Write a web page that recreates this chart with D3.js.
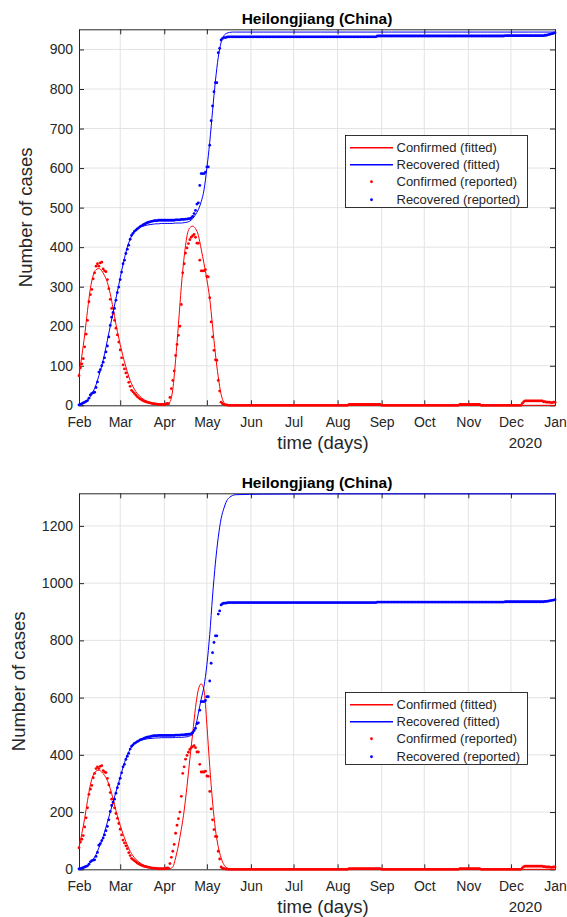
<!DOCTYPE html>
<html lang="en">
<head>
<meta charset="utf-8">
<script src="https://d3js.org/d3.v7.min.js"></script>
<style>
  body { margin: 0; background: #fff; }
  svg text { font-family: "Liberation Sans", Arial, Helvetica, sans-serif; }
</style>
</head>
<body>
<script>
// labels
const titleText = "Heilongjiang (China)";
const xLabel = "time (days)";
const yLabel = "Number of cases";
const yearLabel = "2020";
const legendLabels = ["Confirmed (fitted)", "Recovered (fitted)", "Confirmed (reported)", "Recovered (reported)"];
const monthLabels = ["Feb", "Mar", "Apr", "May", "Jun", "Jul", "Aug", "Sep", "Oct", "Nov", "Dec", "Jan"];
const yTicksTop = [0, 100, 200, 300, 400, 500, 600, 700, 800, 900];
const yTicksBottom = [0, 200, 400, 600, 800, 1000, 1200];
const yMaxTop = 951;
const yMaxBottom = 1314;

// reported values, one per day starting 1 Feb 2020
const confirmedReported = [
  75, 95, 105, 118, 148, 180, 215, 262, 280, 293,
  320, 335, 352, 358, 352, 360, 362, 345, 340, 338,
  318, 295, 268, 245, 232, 215, 195, 178, 160, 140,
  120, 102, 92, 82, 72, 58, 48, 38, 34, 30,
  26, 22, 19, 16, 14, 12, 10, 9, 8, 7,
  6, 5, 4, 4, 3, 3, 2, 2, 2, 2,
  2, 3, 5, 4, 20, 42, 63, 87, 126, 154,
  177, 200, 255, 335, 358, 385, 398, 409, 419, 425,
  429, 432, 425, 410, 410, 367, 340, 340, 340, 343,
  326, 325, 272, 211, 173, 139, 115, 114, 63, 36,
  8, 4, 2, 1, 1, 0, 0, 0, 0, 0,
  0, 0, 0, 0, 0, 0, 0, 0, 0, 0,
  0, 0, 0, 0, 0, 0, 0, 0, 0, 0,
  0, 0, 0, 0, 0, 0, 0, 0, 0, 0,
  0, 0, 0, 0, 0, 0, 0, 0, 0, 0,
  0, 0, 0, 0, 0, 0, 0, 0, 0, 0,
  0, 0, 0, 0, 0, 0, 0, 0, 0, 0,
  0, 0, 0, 0, 0, 0, 0, 0, 0, 0,
  0, 0, 0, 0, 0, 0, 0, 0, 0, 0,
  2, 2, 2, 2, 2, 2, 2, 2, 2, 2,
  2, 2, 2, 2, 2, 2, 2, 2, 2, 2,
  2, 2, 2, 0, 0, 0, 0, 0, 0, 0,
  0, 0, 0, 0, 0, 0, 0, 0, 0, 0,
  0, 0, 0, 0, 0, 0, 0, 0, 0, 0,
  0, 0, 0, 0, 0, 0, 0, 0, 0, 0,
  0, 0, 0, 0, 0, 0, 0, 0, 0, 0,
  0, 0, 0, 0, 0, 0, 0, 0, 2, 2,
  2, 2, 2, 2, 2, 2, 2, 2, 2, 2,
  2, 2, 2, 0, 0, 0, 0, 0, 0, 0,
  0, 0, 0, 0, 0, 0, 0, 0, 0, 0,
  0, 0, 0, 0, 0, 0, 0, 0, 0, 0,
  0, 0, 5, 9, 11, 11, 11, 11, 11, 11,
  11, 11, 11, 11, 11, 11, 11, 9, 9, 8,
  8, 8, 7, 7, 8, 8
];
const recoveredReported = [
  1, 2, 4, 6, 8, 10, 12, 18, 26, 30,
  32, 33, 45, 59, 84, 90, 100, 109, 120, 135,
  150, 173, 202, 223, 235, 245, 266, 285, 299, 318,
  337, 358, 367, 384, 395, 405, 420, 430, 435, 440,
  443, 446, 449, 452, 454, 456, 458, 460, 462, 463,
  464, 465, 466, 467, 467, 467, 468, 468, 468, 468,
  468, 468, 468, 468, 468, 468, 468, 468, 469, 469,
  469, 469, 470, 470, 470, 471, 471, 472, 472, 474,
  478, 485, 493, 509, 512, 556, 586, 586, 586, 590,
  603, 603, 658, 720, 757, 793, 816, 816, 892, 903,
  924, 928, 930, 930, 931, 932, 932, 932, 932, 932,
  932, 932, 932, 932, 932, 932, 932, 932, 932, 932,
  932, 932, 932, 932, 932, 932, 932, 932, 932, 932,
  932, 932, 932, 932, 932, 932, 932, 932, 932, 932,
  932, 932, 932, 932, 932, 932, 932, 932, 932, 932,
  932, 932, 932, 932, 932, 932, 932, 932, 932, 932,
  932, 932, 932, 932, 932, 932, 932, 932, 932, 932,
  932, 932, 932, 932, 932, 932, 932, 932, 932, 932,
  932, 932, 932, 932, 932, 932, 932, 932, 932, 932,
  932, 932, 932, 932, 932, 932, 932, 932, 932, 932,
  932, 932, 932, 932, 932, 932, 932, 932, 932, 932,
  934, 934, 934, 934, 934, 934, 934, 934, 934, 934,
  934, 934, 934, 934, 934, 934, 934, 934, 934, 934,
  934, 934, 934, 934, 934, 934, 934, 934, 934, 934,
  934, 934, 934, 934, 934, 934, 934, 934, 934, 934,
  934, 934, 934, 934, 934, 934, 934, 934, 934, 934,
  934, 934, 934, 934, 934, 934, 934, 934, 934, 934,
  934, 934, 934, 934, 934, 934, 934, 934, 934, 934,
  934, 934, 934, 934, 934, 934, 934, 934, 934, 934,
  934, 934, 934, 934, 934, 934, 934, 934, 934, 934,
  935, 935, 935, 935, 935, 935, 935, 935, 935, 935,
  935, 935, 935, 935, 935, 935, 935, 935, 935, 935,
  935, 935, 935, 935, 935, 935, 935, 935, 936, 936,
  937, 938, 939, 940, 941, 942
];

// fitted curves, sampled on these days
const fitDays = [
  0, 2, 4, 6, 8, 10, 12, 14, 16, 18,
  20, 22, 24, 26, 28, 30, 32, 34, 36, 38,
  40, 42, 44, 46, 48, 50, 52, 54, 56, 58,
  60, 62, 64, 66, 68, 70, 72, 74, 76, 78,
  80, 82, 84, 86, 88, 90, 92, 94, 96, 98,
  100, 102, 104, 106, 108, 110, 130, 170, 220, 270,
  320, 335
];
const confirmedFitTop = [
  76, 125, 178, 240, 295, 329, 343, 346, 340, 328,
  310, 282, 245, 205, 170, 138, 110, 85, 63, 47,
  35, 26, 19, 14, 10, 7, 5, 4, 3, 2,
  2, 2, 8, 40, 115, 205, 300, 375, 428, 449,
  453, 447, 430, 395, 358, 318, 270, 200, 130, 72,
  28, 7, 1, 0, 0, 0, 0, 0, 0, 0,
  0, 0
];
const recoveredFitTop = [
  0, 3, 7, 13, 22, 35, 52, 75, 100, 130,
  165, 200, 235, 270, 305, 340, 372, 400, 420, 435,
  443, 448, 452, 454, 456, 457, 458, 459, 459, 460,
  460, 460, 460, 460, 461, 461, 461, 462, 463, 466,
  472, 482, 495, 515, 545, 600, 665, 745, 820, 880,
  918, 935, 941, 943, 944, 944, 944, 944, 944, 944,
  944, 944
];
const confirmedFitBottom = [
  76, 125, 178, 240, 295, 329, 343, 346, 340, 328,
  310, 282, 245, 205, 170, 138, 110, 85, 63, 47,
  35, 26, 19, 14, 10, 7, 5, 4, 3, 2,
  2, 1, 2, 8, 40, 85, 140, 205, 290, 385,
  475, 565, 628, 648, 626, 505, 360, 235, 140, 79,
  40, 16, 5, 1, 0, 0, 0, 0, 0, 0,
  0, 0
];
const recoveredFitBottom = [
  0, 3, 7, 13, 22, 35, 52, 75, 100, 130,
  165, 200, 235, 270, 305, 340, 372, 400, 420, 435,
  443, 448, 452, 454, 456, 457, 458, 459, 459, 460,
  460, 460, 460, 460, 461, 461, 461, 462, 463, 466,
  472, 498, 545, 595, 640, 715, 820, 955, 1070, 1160,
  1225, 1262, 1288, 1300, 1306, 1309, 1311, 1312, 1312, 1312,
  1312, 1312
];

const W = 567, H = 917;
const left = 79, right = 555, plotH = 376;
const ink = "#262626";
const red = "#ff0000", blue = "#0000ff";

const svg = d3.select("body").append("svg")
  .attr("width", W).attr("height", H);

const day0 = Date.UTC(2020, 1, 1);
const toDate = d => new Date(day0 + d * 864e5);
const x = d3.scaleUtc()
  .domain([toDate(0), new Date(Date.UTC(2021, 0, 1))])
  .range([left, right]);
const monthTicks = d3.utcMonth.range(toDate(0), new Date(Date.UTC(2021, 0, 2)));

function styleAxis(g) {
  g.attr("color", ink).attr("font-size", 14)
    .attr("font-family", '"Liberation Sans", Arial, Helvetica, sans-serif');
  g.select(".domain").attr("stroke", ink);
}

function drawPanel(top, yMax, yTicks, confFit, recFit, legendTop, yLabelX) {
  const bottom = top + plotH;
  const y = d3.scaleLinear().domain([0, yMax]).range([bottom, top]);
  const g = svg.append("g");

  // grid
  g.append("g").selectAll("line").data(monthTicks.slice(1, -1)).join("line")
    .attr("x1", d => x(d)).attr("x2", d => x(d))
    .attr("y1", top).attr("y2", bottom)
    .attr("stroke", "#e3e3e3").attr("stroke-width", 1);
  g.append("g").selectAll("line").data(yTicks.slice(1)).join("line")
    .attr("x1", left).attr("x2", right)
    .attr("y1", d => y(d)).attr("y2", d => y(d))
    .attr("stroke", "#e3e3e3").attr("stroke-width", 1);

  // axes (ticks inward, box all round)
  g.append("g").attr("transform", `translate(0,${bottom})`)
    .call(d3.axisBottom(x).tickValues(monthTicks).tickFormat((d, i) => monthLabels[i])
      .tickSizeInner(-5).tickSizeOuter(0).tickPadding(12))
    .call(styleAxis);
  g.append("g").attr("transform", `translate(0,${top})`)
    .call(d3.axisTop(x).tickValues(monthTicks).tickFormat("")
      .tickSizeInner(-5).tickSizeOuter(0))
    .call(styleAxis);
  g.append("g").attr("transform", `translate(${left},0)`)
    .call(d3.axisLeft(y).tickValues(yTicks).tickFormat(d3.format("d"))
      .tickSizeInner(-5).tickSizeOuter(0).tickPadding(6))
    .call(styleAxis);
  g.append("g").attr("transform", `translate(${right},0)`)
    .call(d3.axisRight(y).tickValues(yTicks).tickFormat("").tickSizeInner(-5).tickSizeOuter(0))
    .call(styleAxis);

  // fitted lines
  const line = vals => d3.line()
    .x((d, i) => x(toDate(fitDays[i])))
    .y(d => y(d))
    .curve(d3.curveMonotoneX)(vals);
  g.append("path").attr("d", line(confFit))
    .attr("fill", "none").attr("stroke", red).attr("stroke-width", 1);
  g.append("path").attr("d", line(recFit))
    .attr("fill", "none").attr("stroke", blue).attr("stroke-width", 1);

  // reported points
  g.append("g").selectAll("circle").data(confirmedReported).join("circle")
    .attr("cx", (d, i) => x(toDate(i))).attr("cy", d => y(d))
    .attr("r", 1.4).attr("fill", red);
  g.append("g").selectAll("circle").data(recoveredReported).join("circle")
    .attr("cx", (d, i) => x(toDate(i))).attr("cy", d => y(d))
    .attr("r", 1.4).attr("fill", blue);

  // title and labels
  g.append("text").attr("x", 317).attr("y", top - 5)
    .attr("text-anchor", "middle").attr("font-weight", "bold")
    .attr("font-size", 15.5).attr("fill", "#000").text(titleText);
  g.append("text").attr("x", 323).attr("y", bottom + 43.5)
    .attr("text-anchor", "middle").attr("font-size", 18.5)
    .attr("fill", ink).text(xLabel);
  g.append("text").attr("x", 542).attr("y", bottom + 42.5)
    .attr("text-anchor", "end").attr("font-size", 15)
    .attr("fill", ink).text(yearLabel);
  g.append("text")
    .attr("transform", `translate(${yLabelX},${(top + bottom) / 2}) rotate(-90)`)
    .attr("text-anchor", "middle").attr("font-size", 18.5)
    .attr("fill", ink).text(yLabel);

  // legend
  const lg = g.append("g").attr("transform", `translate(345.5,${Math.round(legendTop) + 0.5})`);
  lg.append("rect").attr("width", 182).attr("height", 72)
    .attr("fill", "#fff").attr("stroke", "#000").attr("stroke-width", 0.8);
  const colors = [red, blue, red, blue];
  legendLabels.forEach((lab, i) => {
    const cy = Math.round(11.5 + i * 17.4) + 0.25;
    if (i < 2) {
      lg.append("line").attr("x1", 4.5).attr("x2", 47.5)
        .attr("y1", cy).attr("y2", cy)
        .attr("stroke", colors[i]).attr("stroke-width", 1.3);
    } else {
      lg.append("circle").attr("cx", 26).attr("cy", cy).attr("r", 1.4).attr("fill", colors[i]);
    }
    lg.append("text").attr("x", 51).attr("y", cy)
      .attr("dy", "0.36em").attr("font-size", 13)
      .attr("fill", ink).text(lab);
  });
}

drawPanel(29.3, yMaxTop, yTicksTop, confirmedFitTop, recoveredFitTop, 134.7, 31.5);
drawPanel(493.3, yMaxBottom, yTicksBottom, confirmedFitBottom, recoveredFitBottom, 692, 25);
</script>
</body>
</html>
